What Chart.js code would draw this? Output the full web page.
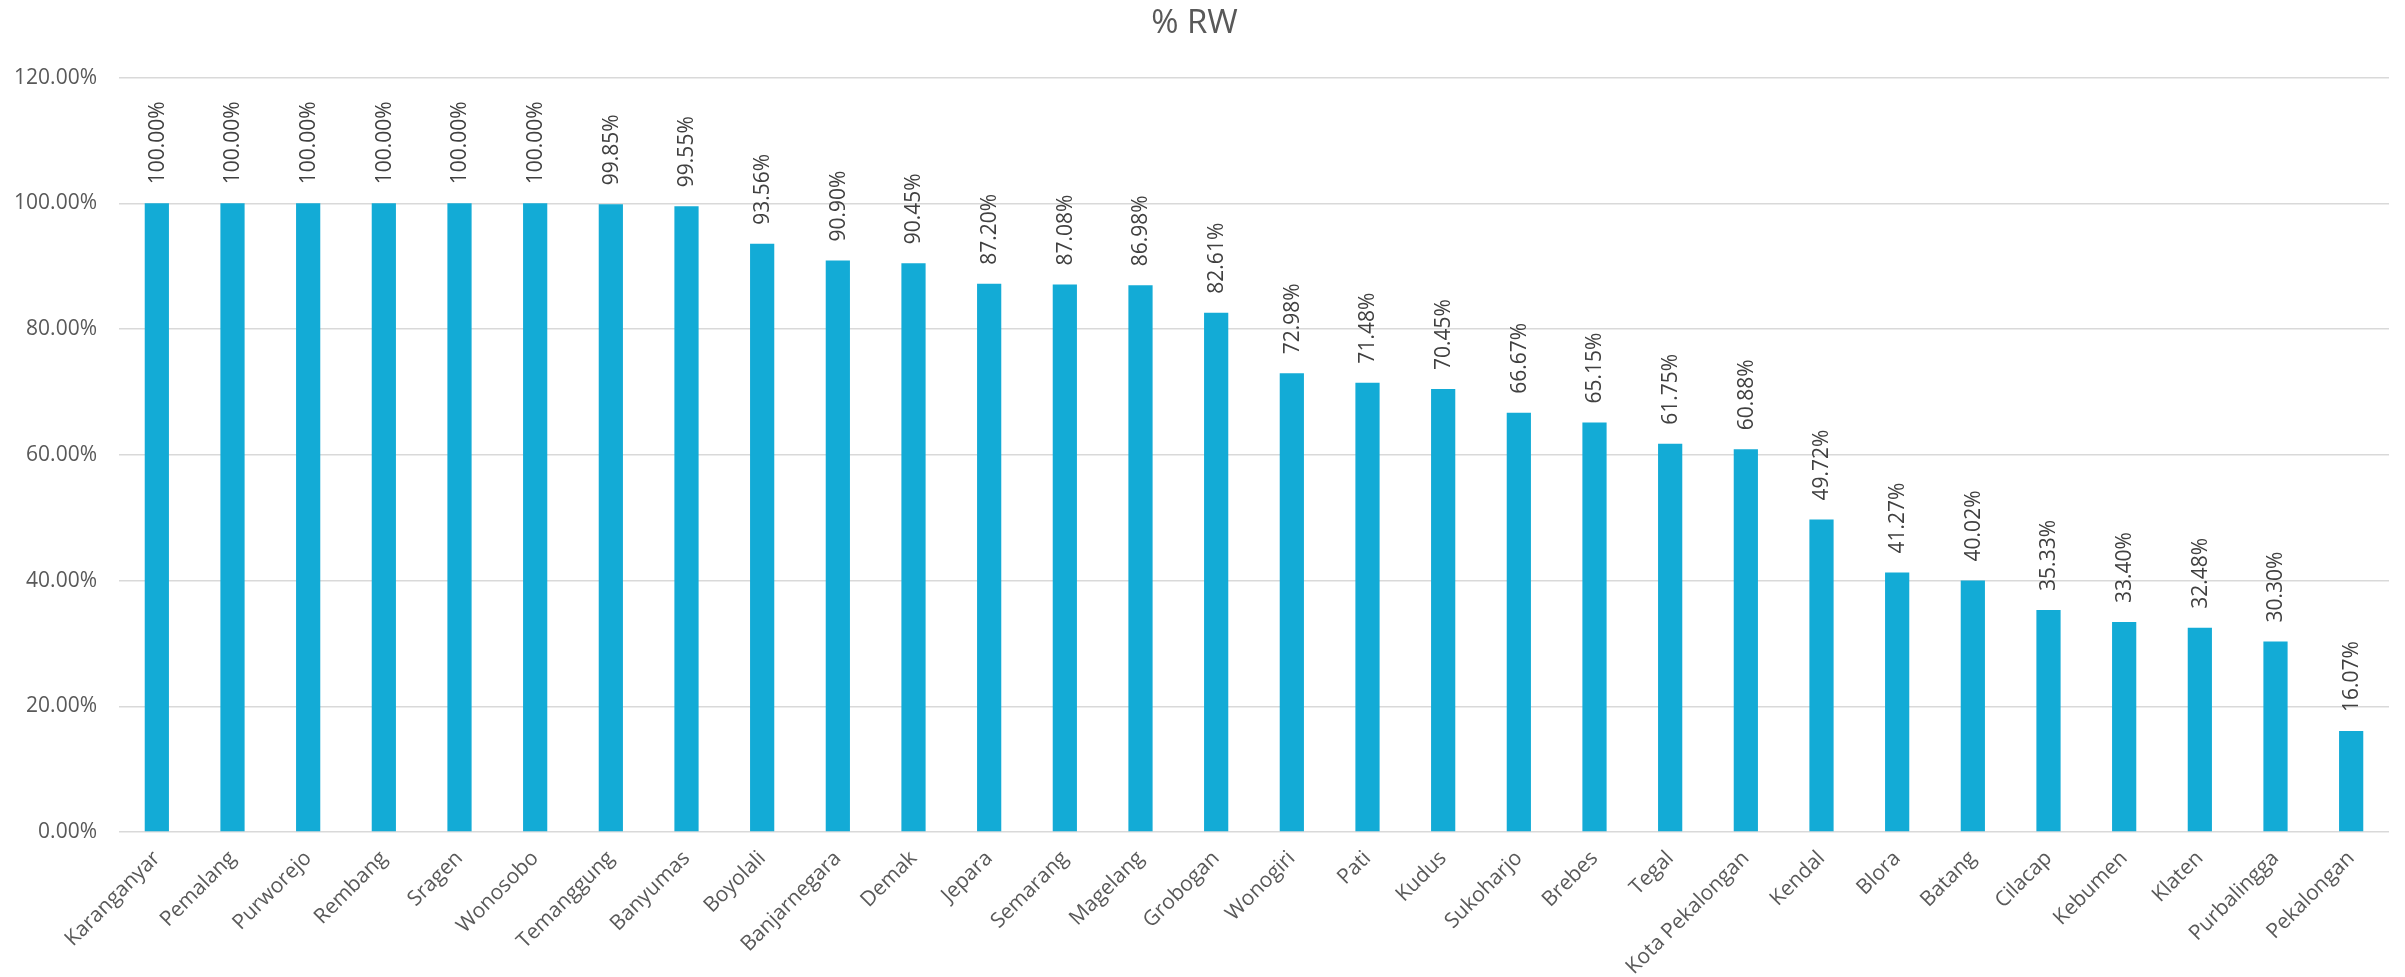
<!DOCTYPE html>
<html>
<head>
<meta charset="utf-8">
<script src="https://cdn.jsdelivr.net/npm/chart.js@4/dist/chart.umd.min.js"></script>
<style>
  html, body { margin: 0; padding: 0; background: #ffffff; }
  #wrap { width: 2405px; height: 977px; position: relative; }
</style>
</head>
<body>
<div id="wrap"><canvas id="c" width="2405" height="977"></canvas></div>
<script>
// Share of RW per regency/city, in percent
const categories = [
  'Karanganyar', 'Pemalang', 'Purworejo', 'Rembang', 'Sragen', 'Wonosobo',
  'Temanggung', 'Banyumas', 'Boyolali', 'Banjarnegara', 'Demak', 'Jepara',
  'Semarang', 'Magelang', 'Grobogan', 'Wonogiri', 'Pati', 'Kudus',
  'Sukoharjo', 'Brebes', 'Tegal', 'Kota Pekalongan', 'Kendal', 'Blora',
  'Batang', 'Cilacap', 'Kebumen', 'Klaten', 'Purbalingga', 'Pekalongan'
];
const rwPercent = [
  100.00, 100.00, 100.00, 100.00, 100.00, 100.00,
  99.85, 99.55, 93.56, 90.90, 90.45, 87.20,
  87.08, 86.98, 82.61, 72.98, 71.48, 70.45,
  66.67, 65.15, 61.75, 60.88, 49.72, 41.27,
  40.02, 35.33, 33.40, 32.48, 30.30, 16.07
];
const yTicks = [0, 20, 40, 60, 80, 100, 120];

const FONT = "'Open Sans', 'Noto Sans', sans-serif";
const fmtPct = v => v.toFixed(2) + '%';

// Vertical value labels above each bar
const barValueLabels = {
  id: 'barValueLabels',
  afterDatasetsDraw(chart) {
    const ctx = chart.ctx;
    const meta = chart.getDatasetMeta(0);
    const data = chart.data.datasets[0].data;
    ctx.save();
    ctx.font = '21px ' + FONT;
    ctx.fillStyle = '#404040';
    ctx.textAlign = 'left';
    ctx.textBaseline = 'middle';
    meta.data.forEach((bar, i) => {
      ctx.save();
      ctx.translate(bar.x + 1, bar.y - 19);
      ctx.rotate(-Math.PI / 2);
      ctx.fillText(fmtPct(data[i]), 0, 0);
      ctx.restore();
    });
    ctx.restore();
  }
};

new Chart(document.getElementById('c'), {
  type: 'bar',
  data: {
    labels: categories,
    datasets: [{
      label: '% RW',
      data: rwPercent,
      backgroundColor: '#13abd6',
      borderWidth: 0,
      categoryPercentage: 1.0,
      barPercentage: 0.32
    }]
  },
  options: {
    responsive: false,
    animation: false,
    devicePixelRatio: 1,
    layout: { padding: { left: 0, right: 16, top: 0, bottom: 0 } },
    plugins: {
      legend: { display: false },
      tooltip: { enabled: false },
      title: {
        display: true,
        text: '% RW',
        color: '#595959',
        font: { family: FONT, size: 33, weight: 'normal' },
        padding: { top: 4, bottom: 34 }
      }
    },
    scales: {
      x: {
        grid: { display: false, drawTicks: false },
        border: { display: false },
        ticks: {
          color: '#595959',
          font: { family: FONT, size: 21 },
          maxRotation: 45,
          minRotation: 45,
          autoSkip: false,
          padding: 14
        },
        afterFit(scale) { scale.height = 145; }
      },
      y: {
        min: 0,
        max: 120,
        afterBuildTicks(scale) { scale.ticks = yTicks.map(v => ({ value: v })); },
        grid: { color: '#d9d9d9', lineWidth: 1.5, drawTicks: false },
        border: { display: false },
        ticks: {
          color: '#595959',
          font: { family: FONT, size: 21 },
          padding: 22,
          callback: v => fmtPct(v)
        },
        afterFit(scale) { scale.width = 119; }
      }
    }
  },
  plugins: [barValueLabels]
});
</script>
</body>
</html>
